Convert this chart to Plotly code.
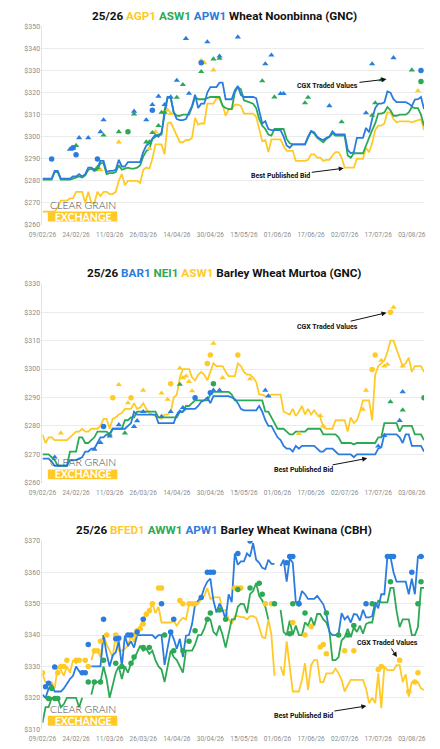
import pandas as pd
import plotly.graph_objects as go
from plotly.subplots import make_subplots

BLUE = "#2A7CDF"
GREEN = "#2DA955"
YELLOW = "#FFCA28"

# trading days shown on the category axis (weekends and public holidays left out)
HOLIDAYS = ["2026-04-03", "2026-04-06", "2026-04-27", "2026-06-08"]
trading = pd.bdate_range("2026-02-09", "2026-08-07")
trading = trading[~trading.isin(pd.to_datetime(HOLIDAYS))]
DATES = list(trading.strftime("%d/%m/%y"))
TICKS = DATES[::11]

# ---- Noonbinna (GNC): best published bid
NOON_AGP1 = [266, 266, 266, 266, 266, 268, 271, 271, 271, 272, 272,
             275, 275, 275, 270, 275, 270, 270, 275, 273, 275, 275,
             274, 274, 275, 280, 283, 278, 280, 280, 280, 280, 279,
             285, 286, 285.5, 290, 296.5, 296.5, 296.5, 292, 306, 306.5, 303.5,
             300, 297.5, 297.5, 298.5, 298.5, 299.5, 308.5, 305.5, 306, 306, 315,
             315, 315, 317.5, 317, 314.5, 309.5, 312.5, 312.5, 314.5, 314.5, 314,
             310.5, 310.5, 310.5, 310.5, 309, 303.5, 298, 298.5, 293, 298.8, 298.8,
             298.8, 298.8, 295.8, 293.6, 293.6, 293.6, 289, 289, 289, 289, 289.5,
             292, 292, 290.5, 290.5, 289, 289.5, 289.5, 291.5, 293, 293, 290.5,
             286, 286, 286, 286, 290, 290, 290, 295, 293, 297, 303,
             305, 305, 306, 311, 311, 308, 306.5, 307, 307, 307, 307,
             306.5, 307, 307.5, 308, 303]
NOON_ASW1 = [280.5, 280.5, 280.5, 280.5, 284, 284, 280.5, 280.5, 280.5, 280.5, 281,
             281.5, 282, 281.5, 282.5, 285, 285.5, 284.5, 285, 288, 288, 283,
             283.5, 283.5, 284, 287, 285, 285.5, 286, 285.5, 285.5, 286, 287,
             291, 293.5, 294.5, 299, 300, 301, 301, 312, 318, 317.5, 311,
             309.5, 309.5, 310, 310, 310, 313.5, 318, 317, 317, 317, 317.5,
             318, 318, 318, 318, 314, 313, 312.5, 312.5, 320, 322.5, 321.5,
             316.5, 316, 315.5, 315, 313, 308, 305, 303.5, 301, 300.5, 303.5,
             303.5, 303.5, 303.5, 299, 297, 296.5, 296.5, 296.5, 296.5, 296.5, 299.5,
             302.5, 301.5, 299.5, 298.5, 297.5, 299, 300, 301.5, 300.5, 300.5, 300.5,
             300.5, 291.5, 290.5, 292.5, 292.5, 292.5, 292.5, 296, 300, 303, 306,
             310.5, 310.5, 311, 313.5, 312, 309.5, 309.5, 310, 310, 310, 311,
             313.5, 313, 313, 310, 305]
NOON_APW1 = [281, 281, 281, 281, 284.5, 284.5, 281, 281, 281, 281, 282,
             282, 283, 282, 283, 286, 286, 285, 286, 289, 289, 284,
             284.5, 284.5, 285, 289.5, 286.5, 286.5, 288.5, 288.5, 288.5, 288.5, 288.5,
             293, 296, 297, 299, 301, 300, 302, 310, 318, 318, 311,
             308, 307.5, 307.5, 308, 311, 314, 319, 313, 315, 315, 320,
             322.5, 322.5, 322.5, 324.5, 324.5, 317, 317, 317, 321, 323, 319,
             318, 318, 318, 318, 317.5, 311, 306, 307, 303.5, 303, 303,
             303, 303, 300, 296, 295, 296.5, 296.5, 296.5, 296.5, 296.5, 300,
             302.5, 302, 300, 299, 298.5, 299.5, 300, 302.5, 301, 301, 301,
             301, 294, 292.5, 293, 299.5, 299.5, 299.5, 304, 302, 308, 313,
             315, 315, 315.5, 320.5, 320, 317, 315.7, 315.7, 315.7, 315.7, 315,
             313.8, 316.8, 317, 318, 312.6]
# CGX traded values: (trading day number, $/t)
NOON_AGP1_TRI = [(19, 285), (25, 297.6), (35, 294.6), (37, 302.2), (41, 312), (42, 310.5),
                 (52, 334.6), (53, 333.5), (56, 330.2), (123, 320.8)]
NOON_ASW1_TRI = [(11, 296), (18, 286), (20, 300.7), (25, 302.2), (30, 310.3), (34, 297.6),
                 (35, 297.6), (36, 301.8), (38, 305), (39, 311), (40, 311), (44, 317.8),
                 (46, 323.6), (52, 329.5), (56, 335.2), (58, 335.5), (72, 325.3), (76, 318),
                 (86, 315.3), (87, 317.8), (98, 306.7), (108, 309.7), (109, 315.3),
                 (111, 325.8), (121, 330.2)]
NOON_ASW1_DOT = [(28, 302.2), (124, 325)]
NOON_APW1_TRI = [(9, 294.3), (10, 294.8), (12, 299.5), (15, 299.5), (19, 302.2), (20, 307.6),
                 (30, 311.5), (34, 307.6), (36, 314.5), (38, 318.3), (40, 314.5), (42, 318),
                 (44, 325.5), (47, 344.5), (48, 319.6), (54, 343), (58, 336.5), (64, 345.2),
                 (73, 333), (75, 337), (78, 319.5), (79, 319.5), (94, 314), (106, 310.8),
                 (108, 333), (115, 335.8)]
NOON_APW1_DOT = [(3, 289.9), (10, 295), (11, 291.8), (18, 289.9), (36, 312), (52, 333.5),
                 (124, 330)]

# ---- Murtoa (GNC): best published bid
MUR_BAR1 = [268.5, 268.5, 268.5, 267.5, 266, 266, 266, 266, 266, 268, 268,
            268, 268.5, 269, 271, 271, 272, 272, 274, 276, 276, 277,
            277, 279, 279, 279, 279, 279, 280, 281, 285, 284, 284,
            284, 284, 284, 284, 284, 281, 281, 281, 281, 281, 281,
            284, 285, 285, 286, 286, 286, 286, 287, 288.5, 289, 290,
            288, 290.5, 290.5, 290.5, 290.5, 290.5, 290.5, 290, 289.5, 288, 286,
            285.5, 285.5, 285.5, 285.5, 285.5, 287, 285, 282, 280, 280, 278,
            276, 275, 273, 272, 272, 271, 273, 272, 273, 273, 273,
            273, 273, 272, 271, 271, 272, 272, 272, 271, 270, 270,
            270, 270, 270, 269, 270, 270, 270, 270, 270, 270, 270,
            272, 272.5, 277, 277, 277, 277, 277, 276, 274, 277, 277,
            273, 273, 273, 273, 271]
MUR_NEI1 = [270, 270, 270, 269, 268, 266, 266, 266, 266, 271, 271,
            271, 276, 276, 274, 274, 275, 276, 278, 278, 278, 278,
            277, 279, 279, 279, 279, 282, 282, 283, 283, 285, 285,
            285, 285, 285, 285, 285, 283, 283, 283, 283, 283, 283,
            283, 285, 285, 287, 287, 288, 289, 289, 289, 289, 289,
            291, 292, 292, 292, 292, 292, 292, 291, 289, 289, 289,
            289, 289, 289, 289, 289, 289, 289, 285, 285, 283, 281,
            279, 279, 279, 278, 277, 277, 278, 278, 278, 278, 279,
            279, 279, 279, 279, 277, 277, 277, 277, 277, 276, 274,
            274, 274, 274, 273.5, 274, 274, 274, 274, 274, 274, 274,
            276, 276, 281, 281, 281, 281, 281, 278, 280, 280, 280,
            280, 277, 277, 277, 275]
MUR_ASW1 = [277, 274, 276, 276, 275, 275, 275, 275, 275, 276, 277,
            278, 278, 279, 278, 278, 279, 279, 279, 280, 282.5, 282.5,
            279, 282.5, 283, 284, 284.5, 286, 286, 286, 288, 286, 286.5,
            288, 286, 284.5, 284, 283.5, 283, 282.5, 284, 284, 285, 290,
            291, 297, 300, 300, 300, 297, 296, 298, 299, 298, 296,
            299, 302, 301, 301, 301, 299, 297.5, 297.5, 297.5, 302, 301,
            299, 298, 298, 297, 295.5, 291, 291, 290.5, 290.5, 291, 291,
            291, 291, 285, 284.5, 284, 286, 283.5, 285, 287, 284, 286,
            284, 285.5, 284, 283, 279.5, 279, 279, 279, 282, 282, 282,
            282, 278, 283, 281, 282, 285, 289, 289, 289, 282, 298,
            301, 302, 303, 306, 310, 310, 307, 304, 301, 302, 304,
            299, 301, 301, 301, 299]
MUR_BAR1_TRI = [(4, 269), (17, 271.8), (19, 274.1), (22, 276.4), (25, 280.4), (30, 279.8),
                (31, 281.8), (33, 285), (39, 283.3), (42, 285), (45, 285), (46, 286.4),
                (56, 292.5), (58, 292.5), (73, 292.5), (74, 290.5), (110, 272.9),
                (112, 276.6), (117, 281.9), (118, 292)]
MUR_BAR1_DOT = [(20, 279.8), (50, 289.9), (55, 291.7)]
MUR_NEI1_TRI = [(22, 277), (27, 277.5), (45, 294.6), (114, 288.5), (118, 285.6)]
MUR_NEI1_DOT = [(56, 294.8), (125, 289.9)]
MUR_ASW1_TRI = [(6, 277.5), (25, 294.5), (28, 288.1), (33, 292.5), (39, 291.5), (41, 289.3),
                (45, 300.3), (46, 296.9), (47, 297.5), (48, 295.6), (49, 292.3), (56, 309),
                (59, 296.9), (68, 296.5), (84, 277.3), (91, 283.6), (92, 280), (105, 285.8),
                (106, 292.5), (111, 303), (112, 301), (113, 301.6), (115, 321.7), (118, 301)]
MUR_ASW1_DOT = [(23, 289.9), (29, 289.9), (42, 294.8), (54, 301.9), (55, 304.9), (64, 304.9),
                (108, 299.8), (109, 304.9), (114, 320)]

# ---- Kwinana (CBH): best published bid (None = no bid that day)
KWI_BFED1 = [327.5, 325, 325, 325, 323, 330, 329, 327, 330, 328, 332,
             331, 332, 332, None, None, 332, 335, 335, 333, 340, 337,
             335, 333, 340, 335, 335, 335.6, 336.6, 340, 337.7, 341, 343,
             345, 347, 347.5, 350, 347, 349, 344, 344, 344, 344, 344.5,
             343, 344.5, 345.5, 345, 349.6, 349.6, 350, 350, 351.5, 352.5, 355,
             351.5, 352, 352, 352, 347.7, 348, 345, 343.5, 346, 346, 345.7,
             345.7, 345, 346, 346, 345.5, 342.5, 339.3, 339, 345, 340, 327,
             None, 330, 327, 338, 330, 322, 322, 322, 325.7, 331, 322.5,
             330.4, 332, 332, 325, 325, 327.8, 327.8, 327.8, 329.3, 327.8, 325.7,
             322, 324, 325.7, 325.7, 325.7, 325.7, 325.7, 323, 318.3, 320, 318.3,
             327.8, 316.7, 330, 328.8, 328.8, 328.8, 330.4, 330.4, 325, 327.5, 320.4,
             325, 325, 325, 323, 322.5]
KWI_AWW1 = [312, 317, 317, 320, 320, 320, 317, 318, 320, 320, 320,
            320, 317, 320, None, None, 321, 325, 325, 325, 330, 326,
            320, 324.5, 328, 330, 326, 330, 328, 331, 332.4, 334.5, 336.6,
            335, 335.6, 334, 335, 332, 330, 329, 325, 330, 335, 333,
            332, 330, 328, 335, 335, 335, 337, 340, 340, 342, 345,
            345, 341, 340, 343, 340, 336, 340, 345, 345, 349, 350,
            349.8, 347, 353, 354, 356.6, 352.5, 351, 349, 345, None, None,
            None, 348, 341, 340, 344.6, 340, 343, 340, 340, 344, 343,
            345.6, 343, 346.7, 346.7, 345, 344, 341.4, 332, 332, 333, 338.3,
            339.3, 342, 339.3, 342.5, 341, 343, 340.4, 343.5, 344, 344, 348.8,
            350.9, 350.4, 350.4, 350.4, 355, 355, 347.7, 342.5, 345, 345, 345,
            340, 340, 342.5, 355, 355]
KWI_APW1 = [321, 320, 323, 324, 322, 322, 322, 323, 324.5, 326, 327,
            330, 328.5, 327.5, None, None, 330, 330, 330, 330, 340, 334,
            330, 333.5, 334.5, 338, 330, 339.8, 336.5, 338, 336, 340, 340,
            340, 340, 340, 340, 339, 340, 340, 330.5, 336, 341, 338.8,
            335.6, 338.8, 333, 339.8, 340, 343.5, 349.8, 351, 352, 355, 357,
            358, 351, 347.2, 350, 348, 345, 353, 350.5, 366, 362.4, 363.5,
            363.5, 366, 365, 369.3, 364, 363, 361.4, 361, 364, 362.7, 362.7,
            None, 362, 364, 357, 364.5, 363, 350.4, 350.4, 354, 353, 351.5,
            351.5, 351.5, 352.5, 351, 349.8, 346.7, 341, 340, 340, 340.4, 347,
            345, 346, 344, 346.7, 346.5, 344.6, 348, 345.6, 345.6, 346, 350.5,
            348.5, 353, 353, 365, 365, 360, 357, 357, 357, 357, 353,
            358, 353, 365, 365, 365]
KWI_BFED1_DOT = [(0, 328), (5, 328), (6, 330), (7, 330), (8, 332), (11, 332), (12, 332),
                 (14, 332), (15, 330), (17, 335), (18, 335), (19, 338), (21, 340), (24, 340),
                 (30, 340), (31, 341.4), (32, 342), (33, 343.5), (34, 346.6), (35, 347.7),
                 (36, 350), (38, 355), (39, 355), (45, 351), (46, 350), (48, 350), (49, 350),
                 (50, 350), (63, 355), (64, 355), (65, 355), (73, 350), (75, 350), (82, 344),
                 (86, 340), (88, 342.7), (91, 336.2), (92, 337), (93, 334), (99, 335),
                 (102, 335), (110, 329), (111, 330), (117, 332), (120, 322), (122, 325),
                 (123, 328)]
KWI_AWW1_DOT = [(2, 319.8), (3, 323), (4, 319.8), (5, 319.8), (15, 325), (17, 325), (19, 325),
                (20, 332), (24, 331), (26, 330), (29, 331), (30, 333), (33, 336), (35, 336),
                (40, 340), (43, 335), (46, 335), (48, 338), (50, 341.4), (54, 345), (55, 347),
                (58, 348), (60, 345), (64, 354.5), (68, 355), (71, 356.5), (72, 353),
                (76, 350), (81, 340.4), (82, 350), (84, 350), (86, 347), (93, 347), (97, 340),
                (100, 340), (102, 343), (108, 350), (114, 357), (123, 350), (124, 357)]
KWI_APW1_DOT = [(1, 323.5), (2, 324.6), (4, 329.8), (13, 328), (14, 328), (15, 337), (20, 345),
                (24, 338.8), (25, 339), (28, 340), (29, 340), (31, 341), (33, 345), (39, 350),
                (42, 341), (43, 345), (52, 352), (54, 360), (55, 360), (56, 360), (64, 366),
                (68, 370), (80, 363), (81, 365), (82, 365), (84, 350), (106, 350), (113, 365),
                (114, 365), (115, 365), (121, 360), (124, 365)]


def span(text, color):
    return f"<span style='color:{color}'>{text}</span>"


PANELS = [
    dict(
        title="25/26 " + span("AGP1", YELLOW) + " " + span("ASW1", GREEN) + " "
        + span("APW1", BLUE) + " Wheat Noonbinna (GNC)",
        lines=[(YELLOW, NOON_AGP1), (GREEN, NOON_ASW1), (BLUE, NOON_APW1)],
        points=[(YELLOW, "triangle-up", NOON_AGP1_TRI), (GREEN, "triangle-up", NOON_ASW1_TRI),
                (GREEN, "circle", NOON_ASW1_DOT), (BLUE, "triangle-up", NOON_APW1_TRI),
                (BLUE, "circle", NOON_APW1_DOT)],
        yrange=[260, 350], top=22.7, bottom=223.3, title_y=12.5,
        cgx=(112.7, 326.1, -59, 7), bid=(98.7, 285.7, -63, 8),
    ),
    dict(
        title="25/26 " + span("BAR1", BLUE) + " " + span("NEI1", GREEN) + " "
        + span("ASW1", YELLOW) + " Barley Wheat Murtoa (GNC)",
        lines=[(YELLOW, MUR_ASW1), (GREEN, MUR_NEI1), (BLUE, MUR_BAR1)],
        points=[(YELLOW, "triangle-up", MUR_ASW1_TRI), (YELLOW, "circle", MUR_ASW1_DOT),
                (GREEN, "triangle-up", MUR_NEI1_TRI), (GREEN, "circle", MUR_NEI1_DOT),
                (BLUE, "triangle-up", MUR_BAR1_TRI), (BLUE, "circle", MUR_BAR1_DOT)],
        yrange=[260, 330], top=282.7, bottom=484, title_y=271.7,
        cgx=(112.7, 319.8, -59, 14), bid=(106.4, 268.6, -64, 12),
    ),
    dict(
        title="25/26 " + span("BFED1", YELLOW) + " " + span("AWW1", GREEN) + " "
        + span("APW1", BLUE) + " Barley Wheat Kwinana (CBH)",
        lines=[(YELLOW, KWI_BFED1), (GREEN, KWI_AWW1), (BLUE, KWI_APW1)],
        points=[(YELLOW, "circle", KWI_BFED1_DOT), (GREEN, "circle", KWI_AWW1_DOT),
                (BLUE, "circle", KWI_APW1_DOT)],
        yrange=[310, 370], top=542.7, bottom=733, title_y=532,
        cgx=(116.1, 333, -9, -14), bid=(106.1, 317.4, -63, 10),
    ),
]

W, H = 440, 749
fig = make_subplots(rows=3, cols=1)

shapes = []
annotations = []
for row, p in enumerate(PANELS, start=1):
    for color, vals in p["lines"]:
        fig.add_trace(go.Scatter(x=DATES, y=vals, mode="lines",
                                 line=dict(color=color, width=1.8)), row=row, col=1)
    for color, symbol, pts in p["points"]:
        fig.add_trace(go.Scatter(x=[DATES[i] for i, _ in pts], y=[v for _, v in pts],
                                 mode="markers",
                                 marker=dict(color=color, symbol=symbol, size=5.5)),
                      row=row, col=1)

    fig.update_xaxes(type="category", categoryorder="array", categoryarray=DATES,
                     range=[0, 125], tickvals=TICKS, ticktext=TICKS, showgrid=False,
                     zeroline=False, ticks="outside", ticklen=3,
                     tickcolor="rgba(0,0,0,0)", tickfont=dict(size=6.5, color="#8c8c8c"),
                     domain=[29.5 / W, 424.5 / W], row=row, col=1)
    fig.update_yaxes(range=p["yrange"], dtick=10, tickprefix="$", gridcolor="#ebebeb",
                     zeroline=False, showline=True, linecolor="#e3e3e3",
                     tickfont=dict(size=7, color="#8c8c8c"),
                     domain=[1 - p["bottom"] / H, 1 - p["top"] / H], row=row, col=1)

    xref = "x" if row == 1 else f"x{row}"
    yref = "y" if row == 1 else f"y{row}"
    annotations.append(dict(text="<b>" + p["title"] + "</b>", x=217.5 / W,
                            y=1 - p["title_y"] / H, xref="paper", yref="paper",
                            xanchor="center", yanchor="middle", showarrow=False,
                            font=dict(size=11.7, color="#111111")))
    for label, (hx, hy, ax, ay) in (("CGX Traded Values", p["cgx"]),
                                    ("Best Published Bid", p["bid"])):
        annotations.append(dict(text=f"<b>{label}</b>", x=hx, y=hy, xref=xref, yref=yref,
                                ax=ax, ay=ay, showarrow=True, arrowhead=2, arrowsize=1,
                                arrowwidth=1, arrowcolor="#111111",
                                font=dict(size=7, color="#111111")))

    # Clear Grain Exchange logo in the lower left corner (yellow block behind 2nd line)
    b = p["bottom"]
    shapes.append(dict(type="rect", xref="paper", yref="paper", x0=35 / W, x1=107 / W,
                       y0=1 - (b - 3.5) / H, y1=1 - (b - 13.5) / H,
                       fillcolor="#FFCA28", line_width=0, layer="above"))
    annotations.append(dict(
        text="<span style='font-size:10.5px'>CLEAR GRAIN</span><br>"
             "<b><span style='color:white;font-size:10.5px'>EXCHANGE</span></b>",
        x=71 / W, y=1 - (b - 14.5) / H, xref="paper", yref="paper",
        xanchor="center", yanchor="middle", showarrow=False,
        font=dict(family="Lato", size=9.4, color="#4d4d4d", weight=300)))

fig.update_layout(
    width=W, height=H, margin=dict(l=0, r=0, t=0, b=0),
    paper_bgcolor="white", plot_bgcolor="white", showlegend=False,
    font=dict(family="Roboto"), shapes=shapes, annotations=annotations,
)

fig.write_html("out.html", config={"displayModeBar": False},
               post_script="document.body.style.margin = '0';")
